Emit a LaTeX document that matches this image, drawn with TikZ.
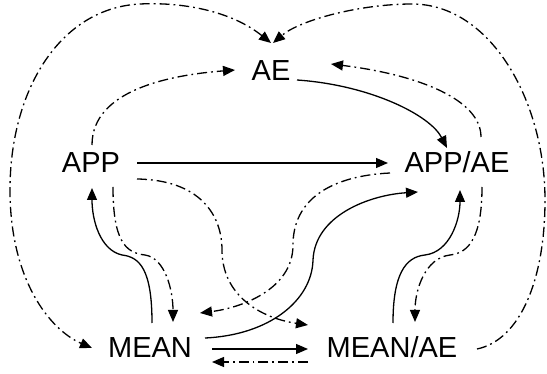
\documentclass[tikz,border=0pt]{standalone}
\usepackage{fontspec}
\setmainfont{Liberation Sans}
\usetikzlibrary{arrows.meta}
\begin{document}
\begin{tikzpicture}[x=1pt,y=-1pt,
  lbl/.style={inner sep=0pt, anchor=base, font=\fontsize{29}{34}\selectfont},
  tip/.style={-{Triangle[length=12pt,width=10pt]}},
  conn/.style={line width=1.3pt, tip},
  dd/.style={conn, dash pattern=on 10pt off 4pt on 1.8pt off 4pt}]
\useasboundingbox (0,0) rectangle (547,374);
\node[lbl] (AE) at (271,81) {AE};
\node[lbl] (APP) at (91,173) {APP};
\node[lbl] (PA) at (457,173) {APP/AE};
\node[lbl] (M) at (150,358) {MEAN};
\node[lbl] (MA) at (392,358) {MEAN/AE};
% solid
\draw[conn] ([shift={(46,-10)}]APP.base) -- ([shift={(-69,-10)}]PA.base);
\draw[conn] ([shift={(26,-1)}]AE.base) .. controls (370,85) and (430,115) .. ([shift={(-10,-25)}]PA.base);
\draw[conn] ([shift={(2,-35)}]M.base) .. controls (152,270) and (140,257) .. (122,255) .. controls (100,250) and (92,220) .. ([shift={(1,15)}]APP.base);
\draw[conn] ([shift={(55,-20)}]M.base) .. controls (270,335) and (312,300) .. (313,260) .. controls (315,215) and (370,195) .. ([shift={(-39,19)}]PA.base);
\draw[conn] ([shift={(62,-9)}]M.base) -- ([shift={(-84,-9)}]MA.base);
\draw[conn] ([shift={(1,-35)}]MA.base) .. controls (393,275) and (405,257) .. (425,255) .. controls (450,252) and (460,220) .. ([shift={(3,17)}]PA.base);
% dash-dot
\draw[dd] ([shift={(1,-28)}]APP.base) .. controls (92,90) and (170,75) .. ([shift={(-36,-11)}]AE.base);
\draw[dd] ([shift={(24,-36)}]PA.base) .. controls (481,100) and (420,75) .. ([shift={(60,-17)}]AE.base);
\draw[dd] ([shift={(22,14)}]APP.base) .. controls (113,240) and (125,253) .. (145,255) .. controls (165,258) and (173,290) .. ([shift={(23,-36)}]M.base);
\draw[dd] ([shift={(46,6)}]APP.base) .. controls (200,180) and (222,215) .. (222,250) .. controls (222,295) and (260,318) .. ([shift={(-84,-33)}]MA.base);
\draw[dd] ([shift={(-67,0)}]PA.base) .. controls (330,176) and (293,200) .. (293,245) .. controls (293,290) and (240,308) .. ([shift={(50,-45)}]M.base);
\draw[dd] ([shift={(25,14)}]PA.base) .. controls (482,235) and (470,253) .. (450,255) .. controls (425,258) and (415,290) .. ([shift={(23,-36)}]MA.base);
\draw[dd] ([shift={(-84,4)}]MA.base) -- ([shift={(62,4)}]M.base);
\draw[dd, {Triangle[length=12pt,width=10pt]}-{Triangle[length=12pt,width=10pt]}] ([shift={(0,-38)}]AE.base) .. controls (230,10) and (180,2) .. (140,4) .. controls (60,8) and (10,90) .. (10,190) .. controls (10,280) and (50,330) .. ([shift={(-58,-10)}]M.base);
\draw[dd] ([shift={(85,-9)}]MA.base) .. controls (520,340) and (545,280) .. (545,200) .. controls (545,100) and (490,4) .. (412,4) .. controls (360,4) and (300,20) .. ([shift={(2,-38)}]AE.base);
\end{tikzpicture}
\end{document}
